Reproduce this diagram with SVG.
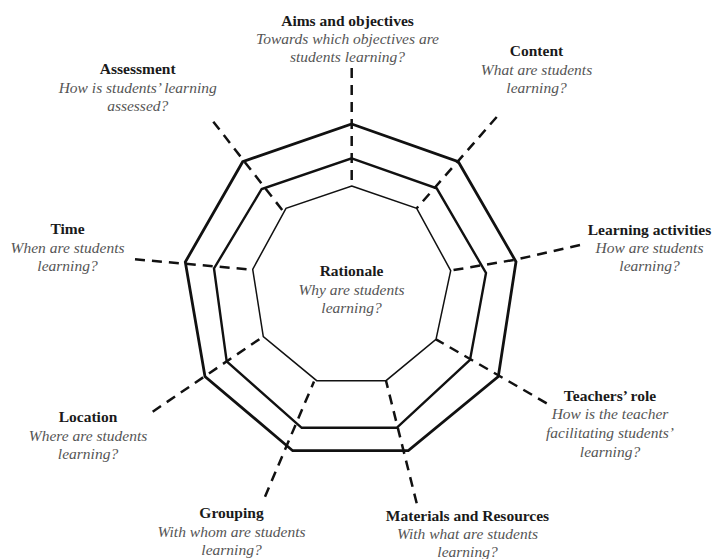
<svg xmlns="http://www.w3.org/2000/svg" width="713" height="559" viewBox="0 0 713 559">
<style>
.bg{fill:#ffffff}
.ring{fill:none;stroke:#111;stroke-linejoin:miter}
.outer{stroke-width:2.8}
.middle{stroke-width:2.4}
.inner{stroke-width:1.5}
.spoke{fill:none;stroke:#111;stroke-width:2.5;stroke-dasharray:10 7}
.t{font-family:"Liberation Serif","Times New Roman",serif;font-size:15.5px;text-anchor:middle}
.b{font-weight:bold;fill:#1a1a1a}
.i{font-style:italic;fill:#555}
</style>
<rect class="bg" x="0" y="0" width="713" height="559"/>
<g id="rings">
<polygon class="ring outer" points="351.7,124 458.3,161.7 516,261.7 498.3,376.5 408.3,450.7 292.7,450.7 205,376.5 185.3,262 242.7,161.7"/>
<polygon class="ring middle" points="351.7,158.3 436.7,188.3 486,273 470,360 396.7,427.8 301.7,427.8 226.7,361.5 214,268.5 261.7,189"/>
<polygon class="ring inner" points="351.7,186 416.7,208.3 450.7,270.7 436,339.3 386,380.7 316.7,380.7 263.3,336.5 252.7,269.3 286,208.3"/>
</g>
<g id="connectors">
<polyline class="spoke" points="351.7,68 351.7,186"/>
<polyline class="spoke" points="496.7,117 416.7,208.3"/>
<polyline class="spoke" points="580,245 516.5,259.5 451,270.5"/>
<polyline class="spoke" points="546.7,403.3 436,339.3"/>
<polyline class="spoke" points="416.7,503.3 386,380.7"/>
<polyline class="spoke" points="265,496.7 314,381.5"/>
<polyline class="spoke" points="152.7,411.7 263.3,336.5"/>
<polyline class="spoke" points="135,259.3 252.7,269.8"/>
<polyline class="spoke" points="213.3,121.7 283,211"/>
</g>
<g id="rationale">
<text class="t b" x="351.5" y="276">Rationale</text>
<text class="t i" x="351.5" y="294.5">Why are students</text>
<text class="t i" x="351.5" y="313">learning?</text>
</g>
<g id="aims">
<text class="t b" x="347.5" y="26">Aims and objectives</text>
<text class="t i" x="347.5" y="44">Towards which objectives are</text>
<text class="t i" x="347.5" y="62">students learning?</text>
</g>
<g id="content">
<text class="t b" x="536.5" y="56">Content</text>
<text class="t i" x="536.5" y="75">What are students</text>
<text class="t i" x="536.5" y="93">learning?</text>
</g>
<g id="learning-activities">
<text class="t b" x="649.5" y="234.5">Learning activities</text>
<text class="t i" x="649.5" y="252.7">How are students</text>
<text class="t i" x="649.5" y="271">learning?</text>
</g>
<g id="teachers-role">
<text class="t b" x="610" y="400.7">Teachers’ role</text>
<text class="t i" x="610" y="419.3">How is the teacher</text>
<text class="t i" x="610" y="438.3">facilitating students’</text>
<text class="t i" x="610" y="457">learning?</text>
</g>
<g id="materials">
<text class="t b" x="467.5" y="520.7">Materials and Resources</text>
<text class="t i" x="467.5" y="539.3">With what are students</text>
<text class="t i" x="467.5" y="557">learning?</text>
</g>
<g id="grouping">
<text class="t b" x="231.5" y="518.3">Grouping</text>
<text class="t i" x="231.5" y="536.7">With whom are students</text>
<text class="t i" x="231.5" y="555">learning?</text>
</g>
<g id="location">
<text class="t b" x="88" y="422.3">Location</text>
<text class="t i" x="88" y="440.7">Where are students</text>
<text class="t i" x="88" y="459.3">learning?</text>
</g>
<g id="time">
<text class="t b" x="67.5" y="234.3">Time</text>
<text class="t i" x="67.5" y="252.5">When are students</text>
<text class="t i" x="67.5" y="271">learning?</text>
</g>
<g id="assessment">
<text class="t b" x="137.7" y="74.3">Assessment</text>
<text class="t i" x="137.7" y="92.7">How is students’ learning</text>
<text class="t i" x="137.7" y="111">assessed?</text>
</g>
</svg>
